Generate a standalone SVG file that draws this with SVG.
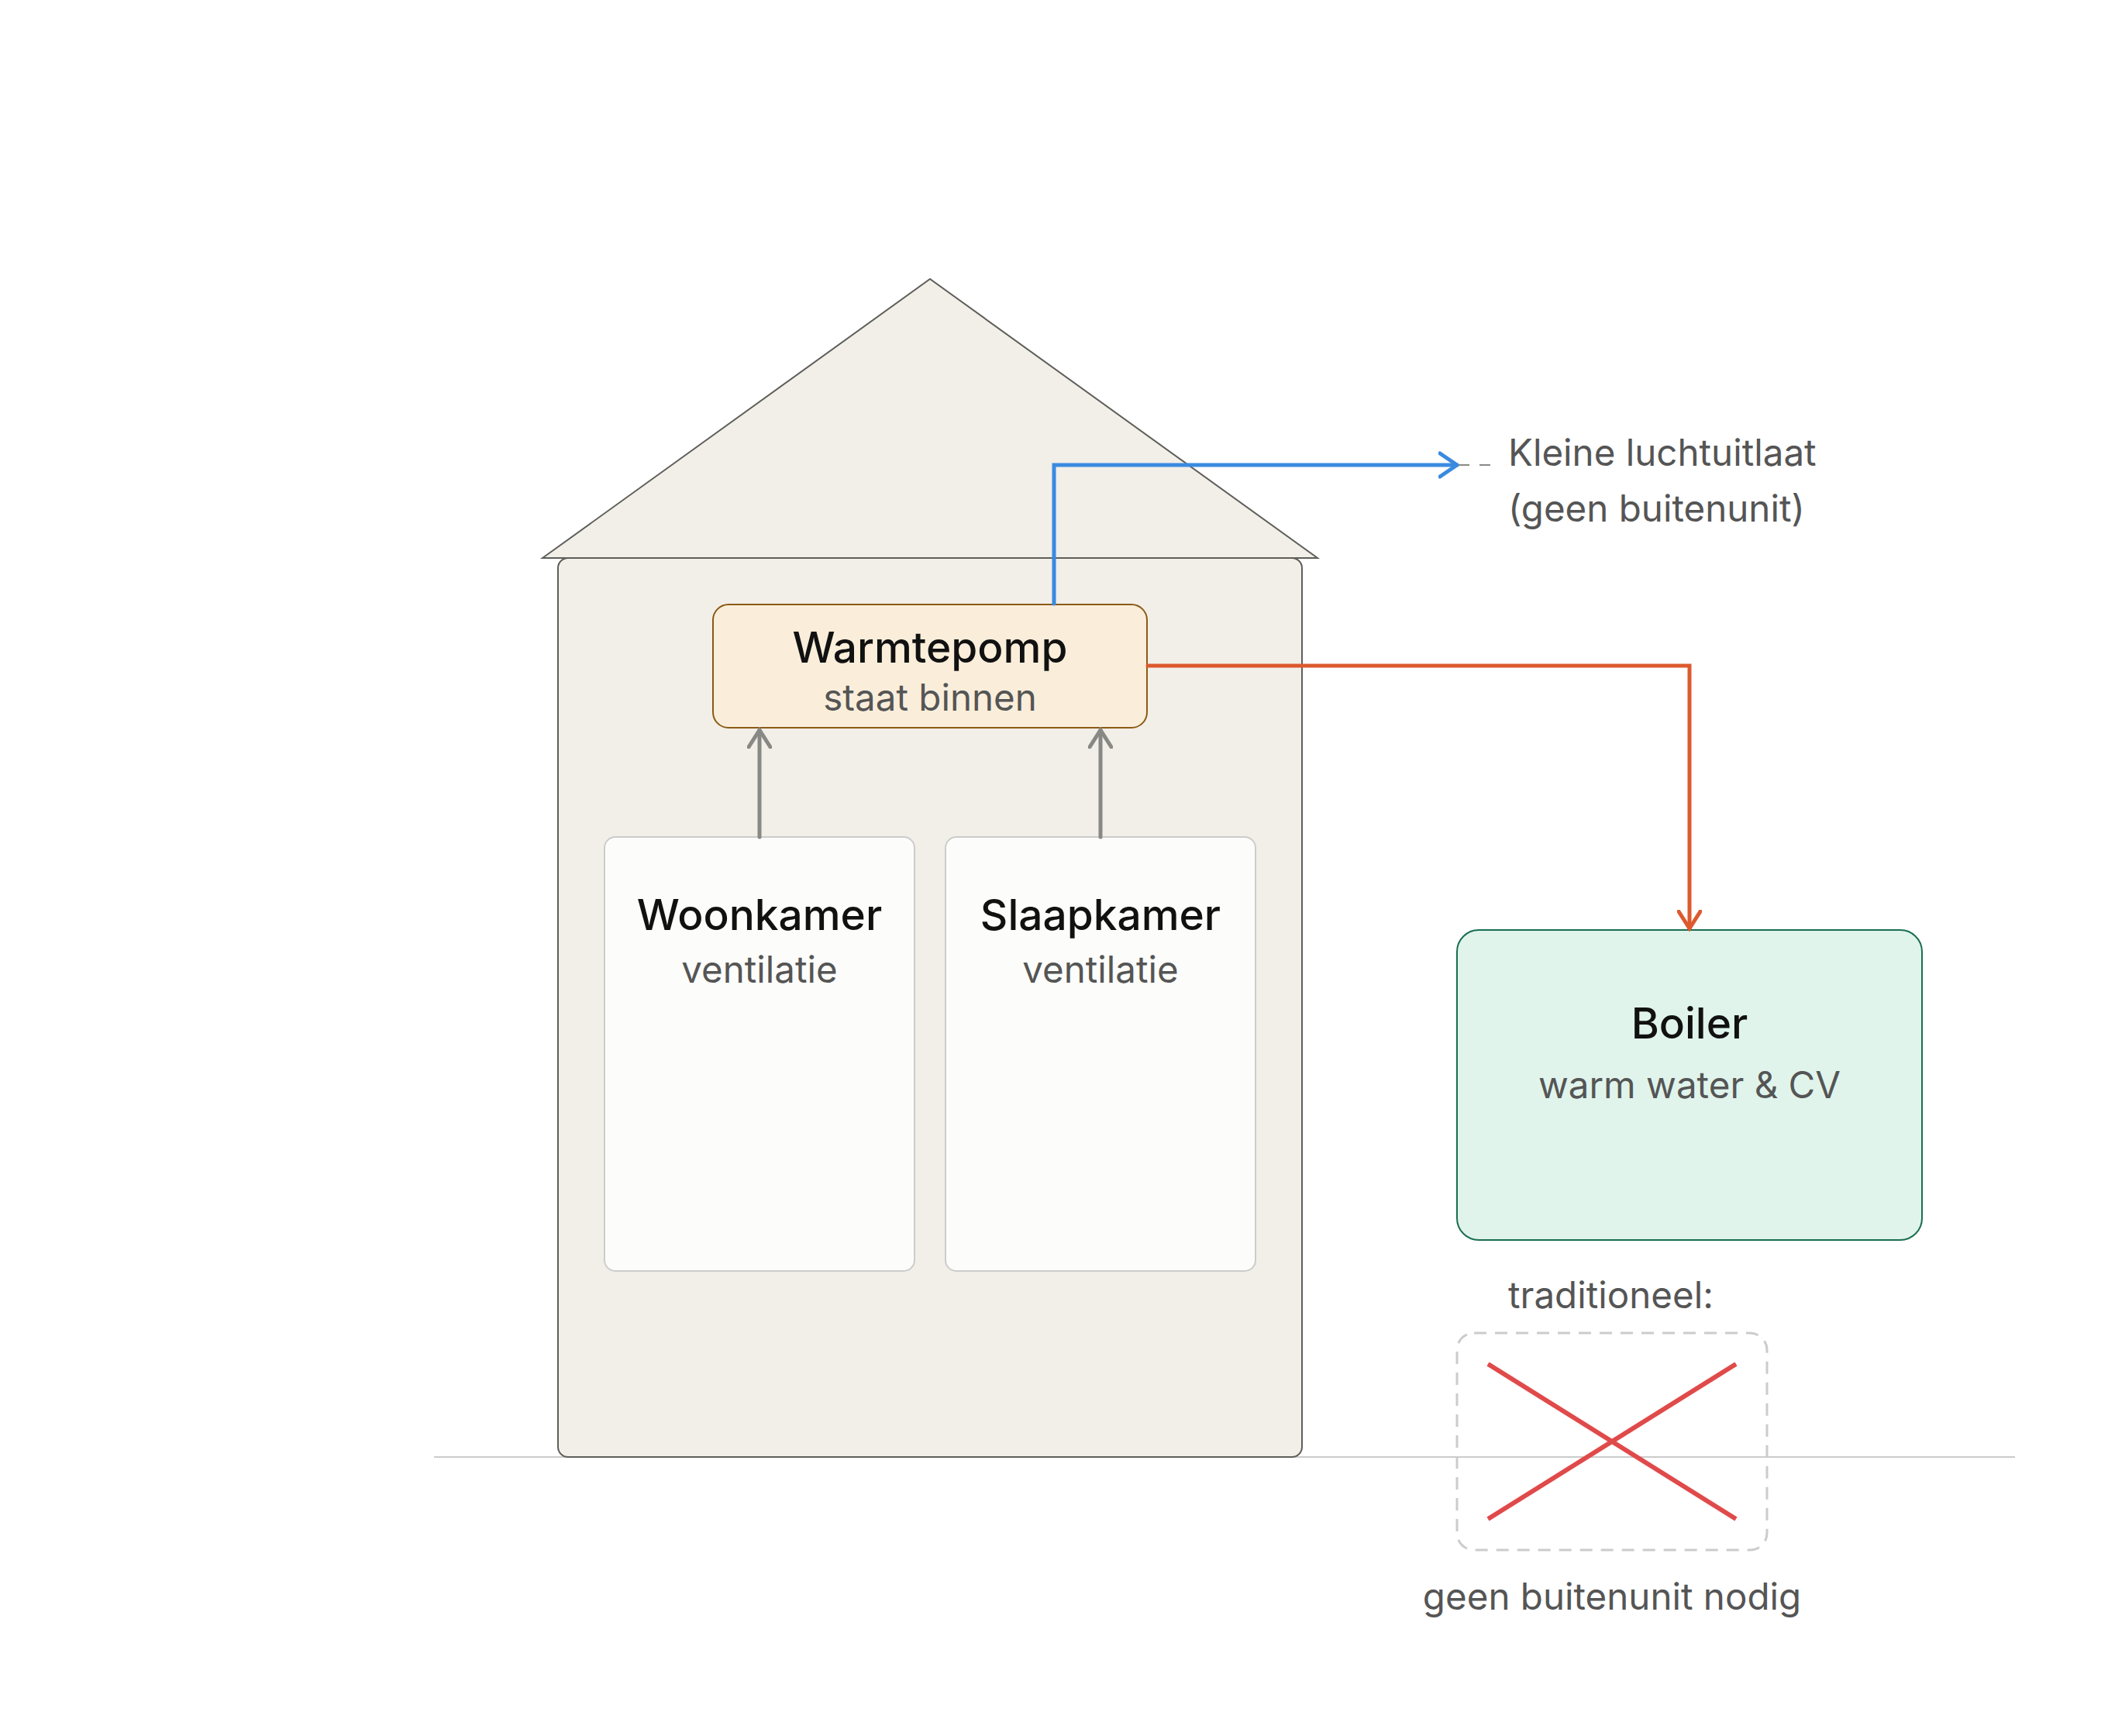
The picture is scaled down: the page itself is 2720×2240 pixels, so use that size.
<svg xmlns="http://www.w3.org/2000/svg" width="2720" height="2240" viewBox="0 0 2720 2240">
<defs>
<style>
.title{font-family:Inter,"Liberation Sans",sans-serif;font-weight:500;font-size:55px;fill:#111;text-anchor:middle}
.sub{font-family:Inter,"Liberation Sans",sans-serif;font-weight:400;font-size:47.5px;fill:#555;text-anchor:middle}
.note{font-family:Inter,"Liberation Sans",sans-serif;font-weight:400;font-size:47.5px;fill:#555}
.wall{fill:#f2efe8;stroke:#5e5e5a;stroke-width:2}
.room{fill:#fcfcfa;stroke:#cccccc;stroke-width:2}
.conn{fill:none;stroke-width:5;stroke-linecap:round;stroke-linejoin:miter}
</style>
<marker id="ahGray" viewBox="-24 -16 28 32" markerWidth="28" markerHeight="32" refX="0" refY="0" orient="auto" markerUnits="userSpaceOnUse">
<path d="M-22,-14 L0,0 L-22,14" fill="none" stroke="#888884" stroke-width="5" stroke-linecap="round" stroke-linejoin="miter"/>
</marker>
<marker id="ahOrange" viewBox="-24 -16 28 32" markerWidth="28" markerHeight="32" refX="0" refY="0" orient="auto" markerUnits="userSpaceOnUse">
<path d="M-22,-14 L0,0 L-22,14" fill="none" stroke="#dc5a2e" stroke-width="5" stroke-linecap="round" stroke-linejoin="miter"/>
</marker>
<marker id="ahBlue" viewBox="-24 -18 28 36" markerWidth="28" markerHeight="36" refX="0" refY="0" orient="auto" markerUnits="userSpaceOnUse">
<path d="M-22,-15 L0,0 L-22,15" fill="none" stroke="#3a8ae0" stroke-width="5" stroke-linecap="round" stroke-linejoin="miter"/>
</marker>
</defs>
<rect width="2720" height="2240" fill="#ffffff"/>
<g id="ground">
<line x1="560" y1="1880" x2="2600" y2="1880" stroke="#cccccc" stroke-width="2"/>
</g>
<g id="house">
<rect class="wall" x="720" y="720" width="960" height="1160" rx="13"/>
<polygon class="wall" points="700,720 1200,360 1700,720"/>
</g>
<g id="woonkamer">
<rect class="room" x="780" y="1080" width="400" height="560" rx="14"/>
<text class="title" x="980" y="1200">Woonkamer</text>
<text class="sub" x="980" y="1268">ventilatie</text>
</g>
<g id="slaapkamer">
<rect class="room" x="1220" y="1080" width="400" height="560" rx="14"/>
<text class="title" x="1420" y="1200">Slaapkamer</text>
<text class="sub" x="1420" y="1268">ventilatie</text>
</g>
<g id="warmtepomp">
<rect x="920" y="780" width="560" height="159" rx="20" fill="#faeedb" stroke="#8b5a14" stroke-width="2"/>
<text class="title" x="1200" y="855">Warmtepomp</text>
<text class="sub" x="1200" y="917">staat binnen</text>
</g>
<g id="boiler">
<rect x="1880" y="1200" width="600" height="400" rx="28" fill="#e0f4ec" stroke="#1a6e52" stroke-width="2"/>
<text class="title" x="2180" y="1340">Boiler</text>
<text class="sub" x="2180" y="1417">warm water &amp; CV</text>
</g>
<g id="luchtuitlaat">
<text class="note" x="1946" y="601">Kleine luchtuitlaat</text>
<text class="note" x="1946" y="673">(geen buitenunit)</text>
</g>
<g id="traditioneel">
<text class="note" x="1946" y="1688">traditioneel:</text>
<rect x="1880" y="1720" width="400" height="280" rx="22" fill="none" stroke="#cccccc" stroke-width="3" stroke-dasharray="16 11"/>
<line x1="1920" y1="1760" x2="2240" y2="1960" stroke="#e04a4a" stroke-width="6"/>
<line x1="1920" y1="1960" x2="2240" y2="1760" stroke="#e04a4a" stroke-width="6"/>
<text class="sub" x="2080" y="2077">geen buitenunit nodig</text>
</g>
<g id="connectors">
<line x1="980" y1="1080" x2="980" y2="942" class="conn" stroke="#888884" marker-end="url(#ahGray)"/>
<line x1="1420" y1="1080" x2="1420" y2="942" class="conn" stroke="#888884" marker-end="url(#ahGray)"/>
<polyline points="1360,779 1360,600 1880,600" class="conn" stroke="#3a8ae0" stroke-linecap="butt" marker-end="url(#ahBlue)"/>
<line x1="1882" y1="600" x2="1924" y2="600" stroke="#888884" stroke-width="2" stroke-dasharray="14 13"/>
<polyline points="1481,859 2180,859 2180,1198" class="conn" stroke="#dc5a2e" stroke-linecap="butt" marker-end="url(#ahOrange)"/>
</g>
</svg>
